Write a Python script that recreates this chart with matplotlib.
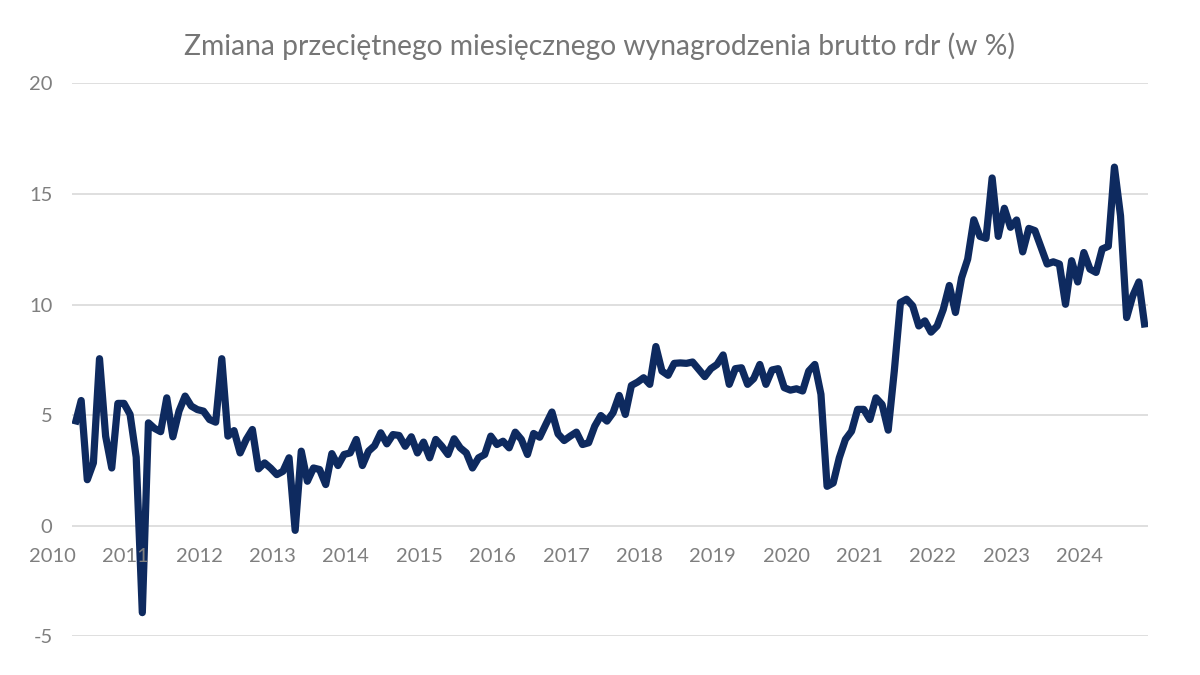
import matplotlib
matplotlib.use('Agg')
import matplotlib.pyplot as plt
import numpy as np
import pandas as pd

plt.rcParams['font.family'] = ['Lato', 'DejaVu Sans']

# Monthly y/y change of average gross wage (%), May 2010 - Dec 2024
start_month = '2010-05'
values = [
    4.58, 5.66, 2.08, 2.84, 7.55, 4.05, 2.61, 5.53, 5.53, 5.03, 3.10, -3.93,   # 2010-05 .. 2011-04
    4.65, 4.40, 4.25, 5.78, 4.02, 5.18, 5.86, 5.41, 5.25, 5.18, 4.80, 4.68,    # 2011-05 .. 2012-04
    7.55, 4.05, 4.30, 3.29, 3.90, 4.35, 2.57, 2.84, 2.60, 2.31, 2.46, 3.07,    # 2012-05 .. 2013-04
    -0.21, 3.37, 2.01, 2.61, 2.54, 1.86, 3.26, 2.72, 3.22, 3.29, 3.90, 2.72,   # 2013-05 .. 2014-04
    3.37, 3.62, 4.20, 3.70, 4.12, 4.08, 3.59, 4.02, 3.29, 3.78, 3.07, 3.90,    # 2014-05 .. 2015-04
    3.59, 3.22, 3.93, 3.52, 3.29, 2.61, 3.07, 3.22, 4.05, 3.67, 3.82, 3.52,    # 2015-05 .. 2016-04
    4.23, 3.90, 3.22, 4.17, 4.00, 4.58, 5.14, 4.15, 3.85, 4.05, 4.23, 3.67,    # 2016-05 .. 2017-04
    3.75, 4.50, 4.98, 4.73, 5.11, 5.89, 5.03, 6.34, 6.49, 6.69, 6.39, 8.10,    # 2017-05 .. 2018-04
    6.99, 6.80, 7.34, 7.36, 7.34, 7.40, 7.07, 6.74, 7.10, 7.29, 7.72, 6.39,    # 2018-05 .. 2019-04
    7.10, 7.14, 6.39, 6.65, 7.29, 6.39, 7.04, 7.10, 6.24, 6.13, 6.19, 6.09,    # 2019-05 .. 2020-04
    6.99, 7.29, 5.94, 1.78, 1.93, 3.07, 3.90, 4.27, 5.26, 5.26, 4.80, 5.78,    # 2020-05 .. 2021-04
    5.48, 4.32, 7.00, 10.09, 10.24, 9.94, 9.03, 9.26, 8.75, 9.03, 9.77, 10.86, # 2021-05 .. 2022-04
    9.64, 11.20, 12.05, 13.83, 13.08, 12.99, 15.72, 13.08, 14.35, 13.49, 13.82, 12.38,  # 2022-05 .. 2023-04
    13.44, 13.34, 12.58, 11.83, 11.93, 11.83, 10.01, 11.98, 11.02, 12.35, 11.60, 11.45, # 2023-05 .. 2024-04
    12.51, 12.63, 16.21, 14.01, 9.41, 10.39, 11.02, 8.96,                      # 2024-05 .. 2024-12
]
years = list(range(2010, 2025))
yticks = [-5, 0, 5, 10, 15, 20]
ytick_labels = ['-5', '0', '5', '10', '15', '20']
title = 'Zmiana przeciętnego miesięcznego wynagrodzenia brutto rdr (w %)'

periods = pd.period_range(start_month, periods=len(values), freq='M')
x = np.array([(p.year - 2010) * 12 + (p.month - 1) for p in periods])

fig = plt.figure(figsize=(12, 6.75), dpi=100)
ax = fig.add_axes([0.06, 0.0573, 0.8967, 0.8193])

ax.plot(x, values, color='#0e2a5f', lw=5.2, solid_joinstyle='round',
        solid_capstyle='butt', zorder=3)

ax.set_xlim(x[0] - 0.5, x[-1] + 0.5)
ax.set_ylim(-5, 20)
ax.set_yticks(yticks)
ax.set_yticklabels(ytick_labels)
ax.set_xticks([])
ax.grid(axis='y', color='#d9d9d9', lw=1.2)
ax.set_axisbelow(True)
for s in ax.spines.values():
    s.set_visible(False)
ax.tick_params(axis='y', length=0, pad=14, labelsize=14.5, labelcolor='#7f7f7f')

for yr in years:
    ax.annotate(str(yr), xy=((yr - 2010) * 12 + 0.3, 0), xytext=(0, -22),
                textcoords='offset points', ha='center', va='center',
                fontsize=14.5, color='#7f7f7f', annotation_clip=False)

fig.text(0.5, 0.932, title, ha='center', va='center', fontsize=20.3, color='#767676')

fig.savefig('out.png', dpi=100)
